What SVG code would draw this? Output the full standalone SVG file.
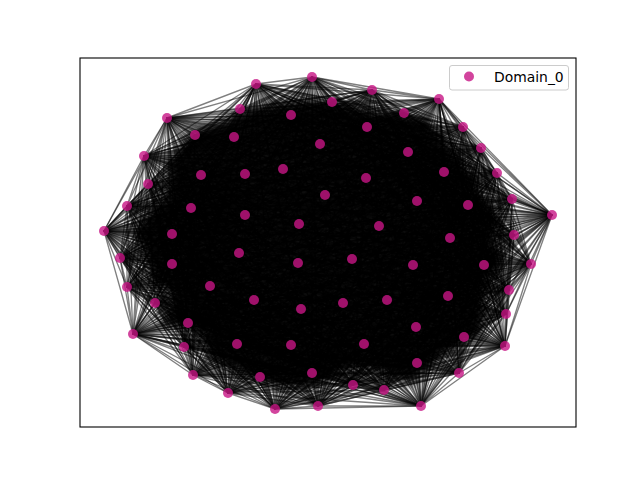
<svg xmlns="http://www.w3.org/2000/svg" width="640" height="480" viewBox="0 0 640 480">
<style>
.e{fill:none;stroke:#000;stroke-width:1.35;stroke-opacity:0.5;stroke-linejoin:round}
.n circle{fill:#c71585;fill-opacity:0.8}
.lt{font-family:"DejaVu Sans",sans-serif;font-size:13.9px;fill:#000}
</style>
<defs>
<filter id="bl" x="-20%" y="-20%" width="140%" height="140%"><feGaussianBlur stdDeviation="5"/></filter>
</defs>
<rect width="640" height="480" fill="#fff"/>
<g id="core">
<polygon filter="url(#bl)" fill="#000" fill-opacity="0.95" points="131,232 151,210 170,191 166,166 187,133 265,103 314,97 367,108 426,116 447,141 463,159 477,181 490,204 505,220 492,236 507,261 488,284 485,305 484,334 444,357 410,386 378,372 350,368 319,386 282,389 240,375 209,359 202,334 157,323 176,296 151,282 145,256"/>
</g>
<g id="edges">
<path class="e" d="M104 231 127 206 120 258 148 184 127 287 144 156 155 303 167 118 133 334 256 84 184 347 312 77 193 375 372 90 228 393 439 99 275 409 463 127 318 406 481 148 353 385 497 173 384 390 512 199 421 406 552 215 459 373 514 235 505 346 531 264 506 314 509 290"/>
<path class="e" d="M127 206 148 184 104 231 144 156 120 258 167 118 127 287 256 84 155 303 312 77 133 334 372 90 184 347 439 99 193 375 463 127 228 393 481 148 275 409 497 173 318 406 512 199 353 385 552 215 384 390 514 235 421 406 531 264 459 373 509 290 505 346 506 314"/>
<path class="e" d="M148 184 144 156 127 206 167 118 104 231 256 84 120 258 312 77 127 287 372 90 155 303 439 99 133 334 463 127 184 347 481 148 193 375 497 173 228 393 512 199 275 409 552 215 318 406 514 235 353 385 531 264 384 390 509 290 421 406 506 314 459 373 505 346"/>
<path class="e" d="M144 156 167 118 148 184 256 84 127 206 312 77 104 231 372 90 120 258 439 99 127 287 463 127 155 303 481 148 133 334 497 173 184 347 512 199 193 375 552 215 228 393 514 235 275 409 531 264 318 406 509 290 353 385 506 314 384 390 505 346 421 406 459 373"/>
<path class="e" d="M167 118 256 84 144 156 312 77 148 184 372 90 127 206 439 99 104 231 463 127 120 258 481 148 127 287 497 173 155 303 512 199 133 334 552 215 184 347 514 235 193 375 531 264 228 393 509 290 275 409 506 314 318 406 505 346 353 385 459 373 384 390 421 406"/>
<path class="e" d="M256 84 312 77 167 118 372 90 144 156 439 99 148 184 463 127 127 206 481 148 104 231 497 173 120 258 512 199 127 287 552 215 155 303 514 235 133 334 531 264 184 347 509 290 193 375 506 314 228 393 505 346 275 409 459 373 318 406 421 406 353 385 384 390"/>
<path class="e" d="M312 77 372 90 256 84 439 99 167 118 463 127 144 156 481 148 148 184 497 173 127 206 512 199 104 231 552 215 120 258 514 235 127 287 531 264 155 303 509 290 133 334 506 314 184 347 505 346 193 375 459 373 228 393 421 406 275 409 384 390 318 406 353 385"/>
<path class="e" d="M372 90 439 99 312 77 463 127 256 84 481 148 167 118 497 173 144 156 512 199 148 184 552 215 127 206 514 235 104 231 531 264 120 258 509 290 127 287 506 314 155 303 505 346 133 334 459 373 184 347 421 406 193 375 384 390 228 393 353 385 275 409 318 406"/>
<path class="e" d="M439 99 463 127 372 90 481 148 312 77 497 173 256 84 512 199 167 118 552 215 144 156 514 235 148 184 531 264 127 206 509 290 104 231 506 314 120 258 505 346 127 287 459 373 155 303 421 406 133 334 384 390 184 347 353 385 193 375 318 406 228 393 275 409"/>
<path class="e" d="M463 127 481 148 439 99 497 173 372 90 512 199 312 77 552 215 256 84 514 235 167 118 531 264 144 156 509 290 148 184 506 314 127 206 505 346 104 231 459 373 120 258 421 406 127 287 384 390 155 303 353 385 133 334 318 406 184 347 275 409 193 375 228 393"/>
<path class="e" d="M481 148 497 173 463 127 512 199 439 99 552 215 372 90 514 235 312 77 531 264 256 84 509 290 167 118 506 314 144 156 505 346 148 184 459 373 127 206 421 406 104 231 384 390 120 258 353 385 127 287 318 406 155 303 275 409 133 334 228 393 184 347 193 375"/>
<path class="e" d="M497 173 512 199 481 148 552 215 463 127 514 235 439 99 531 264 372 90 509 290 312 77 506 314 256 84 505 346 167 118 459 373 144 156 421 406 148 184 384 390 127 206 353 385 104 231 318 406 120 258 275 409 127 287 228 393 155 303 193 375 133 334 184 347"/>
<path class="e" d="M512 199 552 215 497 173 514 235 481 148 531 264 463 127 509 290 439 99 506 314 372 90 505 346 312 77 459 373 256 84 421 406 167 118 384 390 144 156 353 385 148 184 318 406 127 206 275 409 104 231 228 393 120 258 193 375 127 287 184 347 155 303 133 334"/>
<path class="e" d="M552 215 514 235 512 199 531 264 497 173 509 290 481 148 506 314 463 127 505 346 439 99 459 373 372 90 421 406 312 77 384 390 256 84 353 385 167 118 318 406 144 156 275 409 148 184 228 393 127 206 193 375 104 231 184 347 120 258 133 334 127 287 155 303"/>
<path class="e" d="M514 235 531 264 552 215 509 290 512 199 506 314 497 173 505 346 481 148 459 373 463 127 421 406 439 99 384 390 372 90 353 385 312 77 318 406 256 84 275 409 167 118 228 393 144 156 193 375 148 184 184 347 127 206 133 334 104 231 155 303 120 258 127 287"/>
<path class="e" d="M531 264 509 290 514 235 506 314 552 215 505 346 512 199 459 373 497 173 421 406 481 148 384 390 463 127 353 385 439 99 318 406 372 90 275 409 312 77 228 393 256 84 193 375 167 118 184 347 144 156 133 334 148 184 155 303 127 206 127 287 104 231 120 258"/>
<path class="e" d="M120 258 195 135 104 231 240 109 127 206 291 115 148 184 332 102 144 156 367 127 167 118 404 113 256 84 408 152 312 77 444 172 372 90 468 205 439 99 450 238 463 127 484 265 481 148 448 296 497 173 464 337 512 199 417 363 552 215 312 373 514 235 260 377 531 264 237 344 509 290 188 323 506 314 172 264 505 346 172 234 459 373 191 208 421 406 201 175 384 390"/>
<path class="e" d="M127 206 195 135 148 184 240 109 144 156 291 115 167 118 332 102 256 84 367 127 312 77 404 113 372 90 408 152 439 99 444 172 463 127 468 205 481 148 450 238 497 173 484 265 512 199 448 296 552 215 464 337 514 235 417 363 531 264 312 373 509 290 260 377 506 314 237 344 505 346 188 323 459 373 172 264 421 406 172 234 384 390 191 208 353 385 201 175 318 406"/>
<path class="e" d="M144 156 195 135 167 118 240 109 256 84 291 115 312 77 332 102 372 90 367 127 439 99 404 113 463 127 408 152 481 148 444 172 497 173 468 205 512 199 450 238 552 215 484 265 514 235 448 296 531 264 464 337 509 290 417 363 506 314 312 373 505 346 260 377 459 373 237 344 421 406 188 323 384 390 172 264 353 385 172 234 318 406 191 208 275 409 201 175 228 393"/>
<path class="e" d="M256 84 195 135 312 77 240 109 372 90 291 115 439 99 332 102 463 127 367 127 481 148 404 113 497 173 408 152 512 199 444 172 552 215 468 205 514 235 450 238 531 264 484 265 509 290 448 296 506 314 464 337 505 346 417 363 459 373 312 373 421 406 260 377 384 390 237 344 353 385 188 323 318 406 172 264 275 409 172 234 228 393 191 208 193 375 201 175 184 347"/>
<path class="e" d="M372 90 195 135 439 99 240 109 463 127 291 115 481 148 332 102 497 173 367 127 512 199 404 113 552 215 408 152 514 235 444 172 531 264 468 205 509 290 450 238 506 314 484 265 505 346 448 296 459 373 464 337 421 406 417 363 384 390 312 373 353 385 260 377 318 406 237 344 275 409 188 323 228 393 172 264 193 375 172 234 184 347 191 208 133 334 201 175 155 303"/>
<path class="e" d="M463 127 195 135 481 148 240 109 497 173 291 115 512 199 332 102 552 215 367 127 514 235 404 113 531 264 408 152 509 290 444 172 506 314 468 205 505 346 450 238 459 373 484 265 421 406 448 296 384 390 464 337 353 385 417 363 318 406 312 373 275 409 260 377 228 393 237 344 193 375 188 323 184 347 172 264 133 334 172 234 155 303 191 208 127 287 201 175 120 258"/>
<path class="e" d="M497 173 195 135 512 199 240 109 552 215 291 115 514 235 332 102 531 264 367 127 509 290 404 113 506 314 408 152 505 346 444 172 459 373 468 205 421 406 450 238 384 390 484 265 353 385 448 296 318 406 464 337 275 409 417 363 228 393 312 373 193 375 260 377 184 347 237 344 133 334 188 323 155 303 172 264 127 287 172 234 120 258 191 208 104 231 201 175 127 206"/>
<path class="e" d="M552 215 195 135 514 235 240 109 531 264 291 115 509 290 332 102 506 314 367 127 505 346 404 113 459 373 408 152 421 406 444 172 384 390 468 205 353 385 450 238 318 406 484 265 275 409 448 296 228 393 464 337 193 375 417 363 184 347 312 373 133 334 260 377 155 303 237 344 127 287 188 323 120 258 172 264 104 231 172 234 127 206 191 208 148 184 201 175 144 156"/>
<path class="e" d="M531 264 195 135 509 290 240 109 506 314 291 115 505 346 332 102 459 373 367 127 421 406 404 113 384 390 408 152 353 385 444 172 318 406 468 205 275 409 450 238 228 393 484 265 193 375 448 296 184 347 464 337 133 334 417 363 155 303 312 373 127 287 260 377 120 258 237 344 104 231 188 323 127 206 172 264 148 184 172 234 144 156 191 208 167 118 201 175 256 84"/>
<path class="e" d="M506 314 195 135 505 346 240 109 459 373 291 115 421 406 332 102 384 390 367 127 353 385 404 113 318 406 408 152 275 409 444 172 228 393 468 205 193 375 450 238 184 347 484 265 133 334 448 296 155 303 464 337 127 287 417 363 120 258 312 373 104 231 260 377 127 206 237 344 148 184 188 323 144 156 172 264 167 118 172 234 256 84 191 208 312 77 201 175 372 90"/>
<path class="e" d="M459 373 195 135 421 406 240 109 384 390 291 115 353 385 332 102 318 406 367 127 275 409 404 113 228 393 408 152 193 375 444 172 184 347 468 205 133 334 450 238 155 303 484 265 127 287 448 296 120 258 464 337 104 231 417 363 127 206 312 373 148 184 260 377 144 156 237 344 167 118 188 323 256 84 172 264 312 77 172 234 372 90 191 208 439 99 201 175 463 127"/>
<path class="e" d="M384 390 195 135 353 385 240 109 318 406 291 115 275 409 332 102 228 393 367 127 193 375 404 113 184 347 408 152 133 334 444 172 155 303 468 205 127 287 450 238 120 258 484 265 104 231 448 296 127 206 464 337 148 184 417 363 144 156 312 373 167 118 260 377 256 84 237 344 312 77 188 323 372 90 172 264 439 99 172 234 463 127 191 208 481 148 201 175 497 173"/>
<path class="e" d="M318 406 195 135 275 409 240 109 228 393 291 115 193 375 332 102 184 347 367 127 133 334 404 113 155 303 408 152 127 287 444 172 120 258 468 205 104 231 450 238 127 206 484 265 148 184 448 296 144 156 464 337 167 118 417 363 256 84 312 373 312 77 260 377 372 90 237 344 439 99 188 323 463 127 172 264 481 148 172 234 497 173 191 208 512 199 201 175 552 215"/>
<path class="e" d="M228 393 195 135 193 375 240 109 184 347 291 115 133 334 332 102 155 303 367 127 127 287 404 113 120 258 408 152 104 231 444 172 127 206 468 205 148 184 450 238 144 156 484 265 167 118 448 296 256 84 464 337 312 77 417 363 372 90 312 373 439 99 260 377 463 127 237 344 481 148 188 323 497 173 172 264 512 199 172 234 552 215 191 208 514 235 201 175 531 264"/>
<path class="e" d="M184 347 195 135 133 334 240 109 155 303 291 115 127 287 332 102 120 258 367 127 104 231 404 113 127 206 408 152 148 184 444 172 144 156 468 205 167 118 450 238 256 84 484 265 312 77 448 296 372 90 464 337 439 99 417 363 463 127 312 373 481 148 260 377 497 173 237 344 512 199 188 323 552 215 172 264 514 235 172 234 531 264 191 208 509 290 201 175 506 314"/>
<path class="e" d="M155 303 195 135 127 287 240 109 120 258 291 115 104 231 332 102 127 206 367 127 148 184 404 113 144 156 408 152 167 118 444 172 256 84 468 205 312 77 450 238 372 90 484 265 439 99 448 296 463 127 464 337 481 148 417 363 497 173 312 373 512 199 260 377 552 215 237 344 514 235 188 323 531 264 172 264 509 290 172 234 506 314 191 208 505 346 201 175 459 373"/>
</g>
<g id="nodes" class="n">
<g id="n0"><circle cx="104" cy="231" r="5"/></g>
<g id="n1"><circle cx="127" cy="206" r="5"/></g>
<g id="n2"><circle cx="148" cy="184" r="5"/></g>
<g id="n3"><circle cx="144" cy="156" r="5"/></g>
<g id="n4"><circle cx="167" cy="118" r="5"/></g>
<g id="n5"><circle cx="256" cy="84" r="5"/></g>
<g id="n6"><circle cx="312" cy="77" r="5"/></g>
<g id="n7"><circle cx="372" cy="90" r="5"/></g>
<g id="n8"><circle cx="439" cy="99" r="5"/></g>
<g id="n9"><circle cx="463" cy="127" r="5"/></g>
<g id="n10"><circle cx="481" cy="148" r="5"/></g>
<g id="n11"><circle cx="497" cy="173" r="5"/></g>
<g id="n12"><circle cx="512" cy="199" r="5"/></g>
<g id="n13"><circle cx="552" cy="215" r="5"/></g>
<g id="n14"><circle cx="514" cy="235" r="5"/></g>
<g id="n15"><circle cx="531" cy="264" r="5"/></g>
<g id="n16"><circle cx="509" cy="290" r="5"/></g>
<g id="n17"><circle cx="506" cy="314" r="5"/></g>
<g id="n18"><circle cx="505" cy="346" r="5"/></g>
<g id="n19"><circle cx="459" cy="373" r="5"/></g>
<g id="n20"><circle cx="421" cy="406" r="5"/></g>
<g id="n21"><circle cx="384" cy="390" r="5"/></g>
<g id="n22"><circle cx="353" cy="385" r="5"/></g>
<g id="n23"><circle cx="318" cy="406" r="5"/></g>
<g id="n24"><circle cx="275" cy="409" r="5"/></g>
<g id="n25"><circle cx="228" cy="393" r="5"/></g>
<g id="n26"><circle cx="193" cy="375" r="5"/></g>
<g id="n27"><circle cx="184" cy="347" r="5"/></g>
<g id="n28"><circle cx="133" cy="334" r="5"/></g>
<g id="n29"><circle cx="155" cy="303" r="5"/></g>
<g id="n30"><circle cx="127" cy="287" r="5"/></g>
<g id="n31"><circle cx="120" cy="258" r="5"/></g>
<g id="n32"><circle cx="332" cy="102" r="5"/></g>
<g id="n33"><circle cx="240" cy="109" r="5"/></g>
<g id="n34"><circle cx="291" cy="115" r="5"/></g>
<g id="n35"><circle cx="195" cy="135" r="5"/></g>
<g id="n36"><circle cx="234" cy="137" r="5"/></g>
<g id="n37"><circle cx="320" cy="144" r="5"/></g>
<g id="n38"><circle cx="201" cy="175" r="5"/></g>
<g id="n39"><circle cx="245" cy="174" r="5"/></g>
<g id="n40"><circle cx="283" cy="169" r="5"/></g>
<g id="n41"><circle cx="325" cy="195" r="5"/></g>
<g id="n42"><circle cx="191" cy="208" r="5"/></g>
<g id="n43"><circle cx="245" cy="215" r="5"/></g>
<g id="n44"><circle cx="299" cy="224" r="5"/></g>
<g id="n45"><circle cx="172" cy="234" r="5"/></g>
<g id="n46"><circle cx="367" cy="127" r="5"/></g>
<g id="n47"><circle cx="404" cy="113" r="5"/></g>
<g id="n48"><circle cx="408" cy="152" r="5"/></g>
<g id="n49"><circle cx="444" cy="172" r="5"/></g>
<g id="n50"><circle cx="366" cy="178" r="5"/></g>
<g id="n51"><circle cx="417" cy="201" r="5"/></g>
<g id="n52"><circle cx="468" cy="205" r="5"/></g>
<g id="n53"><circle cx="379" cy="226" r="5"/></g>
<g id="n54"><circle cx="450" cy="238" r="5"/></g>
<g id="n55"><circle cx="239" cy="253" r="5"/></g>
<g id="n56"><circle cx="298" cy="263" r="5"/></g>
<g id="n57"><circle cx="172" cy="264" r="5"/></g>
<g id="n58"><circle cx="210" cy="286" r="5"/></g>
<g id="n59"><circle cx="254" cy="300" r="5"/></g>
<g id="n60"><circle cx="301" cy="309" r="5"/></g>
<g id="n61"><circle cx="188" cy="323" r="5"/></g>
<g id="n62"><circle cx="237" cy="344" r="5"/></g>
<g id="n63"><circle cx="291" cy="345" r="5"/></g>
<g id="n64"><circle cx="312" cy="373" r="5"/></g>
<g id="n65"><circle cx="260" cy="377" r="5"/></g>
<g id="n66"><circle cx="352" cy="259" r="5"/></g>
<g id="n67"><circle cx="413" cy="265" r="5"/></g>
<g id="n68"><circle cx="484" cy="265" r="5"/></g>
<g id="n69"><circle cx="343" cy="303" r="5"/></g>
<g id="n70"><circle cx="387" cy="300" r="5"/></g>
<g id="n71"><circle cx="448" cy="296" r="5"/></g>
<g id="n72"><circle cx="416" cy="327" r="5"/></g>
<g id="n73"><circle cx="364" cy="344" r="5"/></g>
<g id="n74"><circle cx="464" cy="337" r="5"/></g>
<g id="n75"><circle cx="417" cy="363" r="5"/></g>
</g>
<rect id="frame" x="80" y="58" width="496" height="369" fill="none" stroke="#000" stroke-width="1.1"/>
<g id="legend">
<rect x="449.5" y="65.5" width="119" height="24.5" rx="2.5" fill="#fff" fill-opacity="0.8" stroke="#ccc" stroke-width="1"/>
<circle cx="469" cy="76.5" r="5" fill="#c71585" fill-opacity="0.8"/>
<text class="lt" x="494" y="81.5">Domain_0</text>
</g>
</svg>
